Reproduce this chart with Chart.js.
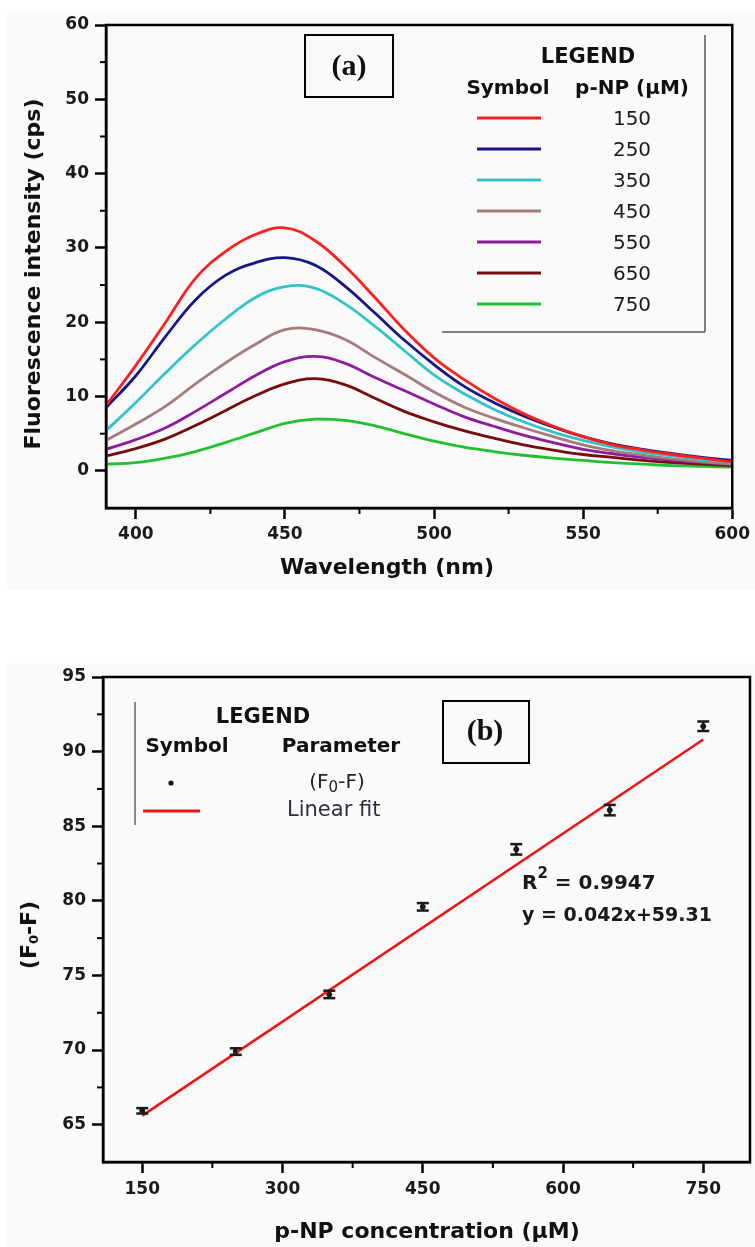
<!DOCTYPE html>
<html>
<head>
<meta charset="utf-8">
<script src="https://cdn.jsdelivr.net/npm/chart.js@4.4.1/dist/chart.umd.min.js"></script>
<style>
  html, body { margin: 0; padding: 0; background: #fff; }
  #wrap { position: relative; width: 755px; height: 1247px; overflow: hidden; }
  .panel { position: absolute; left: 7px; right: 0; background: #fafafa; }
  #pa { top: 12px; height: 578px; }
  #pb { top: 663px; height: 584px; }
  #cA { position: absolute; left: 0; top: 0; }
  #cB { position: absolute; left: 0; top: 600px; }
</style>
</head>
<body>
<div id="wrap">
  <div class="panel" id="pa"></div>
  <div class="panel" id="pb"></div>
  <canvas id="cA" width="755" height="600"></canvas>
  <canvas id="cB" width="755" height="647"></canvas>
</div>
<script>
// ---------- (a) emission spectra ----------
const wavelength = [390, 400, 410, 420, 430, 440, 450, 460, 470, 480, 490, 500, 510, 520, 530, 540, 550, 560, 570, 580, 590, 600];
const pnp150 = [8.8, 14.2, 20.0, 25.9, 29.5, 31.8, 32.7, 31.0, 27.6, 23.4, 19.0, 15.2, 12.3, 9.8, 7.7, 6.0, 4.6, 3.5, 2.8, 2.2, 1.7, 1.2];
const pnp250 = [8.5, 12.8, 18.1, 23.0, 26.3, 28.0, 28.7, 27.7, 24.9, 21.3, 17.6, 14.3, 11.4, 9.2, 7.4, 5.9, 4.6, 3.6, 2.9, 2.3, 1.8, 1.4];
const pnp350 = [5.4, 9.2, 13.2, 17.0, 20.4, 23.3, 24.8, 24.6, 22.5, 19.5, 16.2, 12.9, 10.4, 8.3, 6.6, 5.2, 4.1, 3.2, 2.5, 2.0, 1.5, 1.2];
const pnp450 = [4.1, 6.3, 8.7, 11.7, 14.5, 17.0, 19.0, 19.0, 17.7, 15.3, 13.0, 10.6, 8.6, 7.1, 5.8, 4.6, 3.5, 2.7, 2.1, 1.6, 1.2, 0.9];
const pnp550 = [2.9, 4.2, 5.8, 8.0, 10.4, 12.8, 14.7, 15.4, 14.5, 12.6, 10.8, 9.0, 7.3, 6.0, 4.8, 3.8, 2.9, 2.3, 1.8, 1.4, 1.1, 0.9];
const pnp650 = [2.0, 3.0, 4.3, 6.1, 8.1, 10.1, 11.7, 12.4, 11.6, 9.8, 8.0, 6.6, 5.4, 4.4, 3.5, 2.8, 2.2, 1.8, 1.4, 1.1, 0.9, 0.7];
const pnp750 = [0.9, 1.1, 1.7, 2.6, 3.8, 5.1, 6.4, 6.95, 6.8, 6.1, 5.0, 4.0, 3.2, 2.6, 2.1, 1.7, 1.4, 1.1, 0.9, 0.7, 0.6, 0.5];
const spectra = [pnp150, pnp250, pnp350, pnp450, pnp550, pnp650, pnp750];
const pnpLevels = ['150', '250', '350', '450', '550', '650', '750'];
const spectrumColors = ['#ff1f1f', '#161685', '#33c3c8', '#a57b7b', '#8e1c9c', '#760c0c', '#20c030'];
const xTicksA = [400, 450, 500, 550, 600];
const xMinorA = [425, 475, 525, 575];
const yTicksA = [0, 10, 20, 30, 40, 50, 60];
const yMinorA = [5, 15, 25, 35, 45, 55];

// ---------- (b) quenching vs concentration ----------
const concentration = [150, 250, 350, 450, 550, 650, 750];
const quench = [65.93, 69.9, 73.73, 79.6, 83.45, 86.08, 91.7];
const quenchErr = [0.18, 0.22, 0.25, 0.25, 0.35, 0.35, 0.32];
const fitSlope = 0.042;
const fitIntercept = 59.31;
const fitR2 = '0.9947';
const fitRange = [150, 750];
const xTicksB = [150, 300, 450, 600, 750];
const xMinorB = [225, 375, 525, 675];
const yTicksB = [65, 70, 75, 80, 85, 90, 95];
const yMinorB = [67.5, 72.5, 77.5, 82.5, 87.5, 92.5];

const TICK_FONT = { family: 'DejaVu Sans', size: 17, weight: 'bold' };
const TITLE_FONT = 'bold 22px "DejaVu Sans"';

function richText(ctx, parts, x, y, align) {
  let total = 0;
  parts.forEach(p => { ctx.font = p.font; p.w = ctx.measureText(p.t).width; total += p.w; });
  let cx = align === 'center' ? x - total / 2 : x;
  ctx.textAlign = 'left';
  ctx.textBaseline = 'middle';
  parts.forEach(p => { ctx.font = p.font; ctx.fillText(p.t, cx, y + (p.dy || 0)); cx += p.w; });
}

function line(ctx, x1, y1, x2, y2) {
  ctx.beginPath(); ctx.moveTo(x1, y1); ctx.lineTo(x2, y2); ctx.stroke();
}

// frame on all four sides and short minor ticks outside the bottom/left axes
const framePlugin = {
  id: 'frameTicks',
  afterDraw(chart, args, opts) {
    const ctx = chart.ctx, a = chart.chartArea;
    ctx.save();
    ctx.strokeStyle = '#000';
    ctx.lineWidth = 2.5;
    ctx.strokeRect(a.left, a.top, a.right - a.left, a.bottom - a.top);
    ctx.lineWidth = 2;
    (opts.xMinor || []).forEach(v => {
      const px = chart.scales.x.getPixelForValue(v);
      line(ctx, px, a.bottom, px, a.bottom + 6);
    });
    (opts.yMinor || []).forEach(v => {
      const py = chart.scales.y.getPixelForValue(v);
      line(ctx, a.left - 6, py, a.left, py);
    });
    ctx.restore();
  }
};

function axisScale(min, max, ticks, fitKey, fitSize, pad) {
  return {
    type: 'linear', min, max,
    afterBuildTicks: s => { s.ticks = ticks.map(v => ({ value: v })); },
    afterFit: s => { s[fitKey] = fitSize; },
    ticks: { font: TICK_FONT, color: '#1a1a1a', padding: pad, maxRotation: 0, autoSkip: false },
    grid: { drawOnChartArea: false, drawTicks: true, tickLength: 11, tickWidth: 2.5, tickColor: '#000' },
    border: { display: true, width: 2.5, color: '#000' }
  };
}

// ---------- chart (a) ----------
const annotA = {
  id: 'annotA',
  afterDraw(chart) {
    const ctx = chart.ctx;
    ctx.save();
    ctx.fillStyle = '#111';
    // axis titles
    ctx.font = TITLE_FONT; ctx.textAlign = 'center'; ctx.textBaseline = 'middle';
    ctx.fillText('Wavelength (nm)', 387, 568);
    ctx.save(); ctx.translate(34, 274); ctx.rotate(-Math.PI / 2);
    ctx.fillText('Fluorescence intensity (cps)', 0, 0); ctx.restore();
    // panel tag
    ctx.strokeStyle = '#000'; ctx.lineWidth = 2;
    ctx.strokeRect(305, 35, 88, 62);
    ctx.font = 'bold 30px "Liberation Serif"';
    ctx.fillText('(a)', 349, 67);
    // legend frame
    ctx.strokeStyle = '#555'; ctx.lineWidth = 1.5;
    line(ctx, 705, 35, 705, 332);
    line(ctx, 442, 332, 705, 332);
    // legend header
    ctx.fillStyle = '#111';
    ctx.font = 'bold 21px "DejaVu Sans"';
    ctx.fillText('LEGEND', 588, 58);
    ctx.font = 'bold 20px "DejaVu Sans"';
    ctx.fillText('Symbol', 508, 89);
    ctx.fillText('p-NP (μM)', 632, 89);
    // legend rows
    chart.data.datasets.forEach((ds, i) => {
      const y = 118 + i * 31;
      ctx.strokeStyle = ds.borderColor; ctx.lineWidth = 3;
      line(ctx, 477, y, 541, y);
      ctx.fillStyle = '#1a1a1a';
      ctx.font = '20px "DejaVu Sans"';
      ctx.fillText(ds.label, 632, y + 2);
    });
    ctx.restore();
  }
};

new Chart(document.getElementById('cA'), {
  type: 'line',
  data: {
    datasets: spectra.map((vals, i) => ({
      label: pnpLevels[i],
      data: wavelength.map((w, j) => ({ x: w, y: vals[j] })),
      borderColor: spectrumColors[i],
      borderWidth: 2.8,
      pointRadius: 0,
      tension: 0.4,
      fill: false
    }))
  },
  options: {
    responsive: false, animation: false, devicePixelRatio: 1,
    layout: { padding: { top: 25, right: 20, left: 0, bottom: 0 } },
    plugins: {
      legend: { display: false }, tooltip: { enabled: false },
      frameTicks: { xMinor: xMinorA, yMinor: yMinorA }
    },
    scales: {
      x: axisScale(390, 600, xTicksA, 'height', 92, 5),
      y: axisScale(-5, 60, yTicksA, 'width', 106, 6)
    }
  },
  plugins: [framePlugin, annotA]
});

// ---------- chart (b) ----------
const errorBars = {
  id: 'errorBars',
  afterDatasetsDraw(chart) {
    const ctx = chart.ctx, xs = chart.scales.x, ys = chart.scales.y;
    const ds = chart.data.datasets[0];
    ctx.save();
    ctx.strokeStyle = '#1a1a1a'; ctx.lineWidth = 2.5;
    ds.data.forEach((p, i) => {
      const px = xs.getPixelForValue(p.x);
      const lo = ys.getPixelForValue(p.y - ds.errors[i]);
      const hi = ys.getPixelForValue(p.y + ds.errors[i]);
      line(ctx, px, lo, px, hi);
      line(ctx, px - 6, lo, px + 6, lo);
      line(ctx, px - 6, hi, px + 6, hi);
    });
    ctx.restore();
  }
};

const annotB = {
  id: 'annotB',
  afterDraw(chart) {
    const ctx = chart.ctx;
    ctx.save();
    ctx.fillStyle = '#111';
    ctx.textAlign = 'center'; ctx.textBaseline = 'middle';
    ctx.font = TITLE_FONT;
    ctx.fillText('p-NP concentration (μM)', 427, 632);
    ctx.save(); ctx.translate(30, 335); ctx.rotate(-Math.PI / 2);
    richText(ctx, [
      { t: '(F', font: TITLE_FONT },
      { t: '0', font: 'bold 13px "DejaVu Sans"', dy: 5 },
      { t: '-F)', font: TITLE_FONT }
    ], 0, 0, 'center');
    ctx.restore();
    // panel tag
    ctx.strokeStyle = '#000'; ctx.lineWidth = 2;
    ctx.strokeRect(443, 101, 86, 62);
    ctx.textAlign = 'center';
    ctx.font = 'bold 30px "Liberation Serif"';
    ctx.fillText('(b)', 485, 132);
    // legend
    ctx.strokeStyle = '#666'; ctx.lineWidth = 1.5;
    line(ctx, 135, 102, 135, 225);
    ctx.font = 'bold 21px "DejaVu Sans"';
    ctx.fillText('LEGEND', 263, 118);
    ctx.font = 'bold 20px "DejaVu Sans"';
    ctx.fillText('Symbol', 187, 147);
    ctx.fillText('Parameter', 341, 147);
    const pts = chart.data.datasets[0];
    ctx.fillStyle = pts.backgroundColor;
    ctx.beginPath(); ctx.arc(171, 183, 2.6, 0, Math.PI * 2); ctx.fill();
    ctx.fillStyle = '#222';
    richText(ctx, [
      { t: '(F', font: '20px "DejaVu Sans"' },
      { t: '0', font: '15px "DejaVu Sans"', dy: 5 },
      { t: '-F)', font: '20px "DejaVu Sans"' }
    ], 337, 183, 'center');
    const fit = chart.data.datasets[1];
    ctx.strokeStyle = fit.borderColor; ctx.lineWidth = 3;
    line(ctx, 143, 211, 200, 211);
    ctx.fillStyle = '#2c3140';
    ctx.font = '21px "DejaVu Sans"';
    ctx.textAlign = 'left';
    ctx.fillText('Linear fit', 287, 211);
    // regression text
    ctx.fillStyle = '#1a1a1a';
    richText(ctx, [
      { t: 'R', font: 'bold 20px "DejaVu Sans"' },
      { t: '2', font: 'bold 15px "DejaVu Sans"', dy: -10 },
      { t: ' = ' + fitR2, font: 'bold 20px "DejaVu Sans"' }
    ], 522, 284, 'left');
    ctx.font = 'bold 19px "DejaVu Sans"';
    ctx.textAlign = 'left';
    ctx.fillText('y = ' + fitSlope.toFixed(3) + 'x+' + fitIntercept.toFixed(2), 522, 316);
    ctx.restore();
  }
};

new Chart(document.getElementById('cB'), {
  type: 'scatter',
  data: {
    datasets: [
      {
        label: '(F0-F)',
        data: concentration.map((c, i) => ({ x: c, y: quench[i] })),
        errors: quenchErr,
        backgroundColor: '#111',
        borderColor: '#111',
        pointRadius: 2.5,
        order: 2
      },
      {
        type: 'line',
        label: 'Linear fit',
        data: fitRange.map(c => ({ x: c, y: fitSlope * c + fitIntercept })),
        borderColor: '#f01414',
        borderWidth: 2.6,
        pointRadius: 0,
        fill: false,
        order: 1
      }
    ]
  },
  options: {
    responsive: false, animation: false, devicePixelRatio: 1,
    layout: { padding: { top: 77, right: 3, left: 0, bottom: 0 } },
    plugins: {
      legend: { display: false }, tooltip: { enabled: false },
      frameTicks: { xMinor: xMinorB, yMinor: yMinorB }
    },
    scales: {
      x: axisScale(108, 800, xTicksB, 'height', 85, 6),
      y: axisScale(62.5, 95, yTicksB, 'width', 103, 6)
    }
  },
  plugins: [framePlugin, errorBars, annotB]
});
</script>
</body>
</html>
